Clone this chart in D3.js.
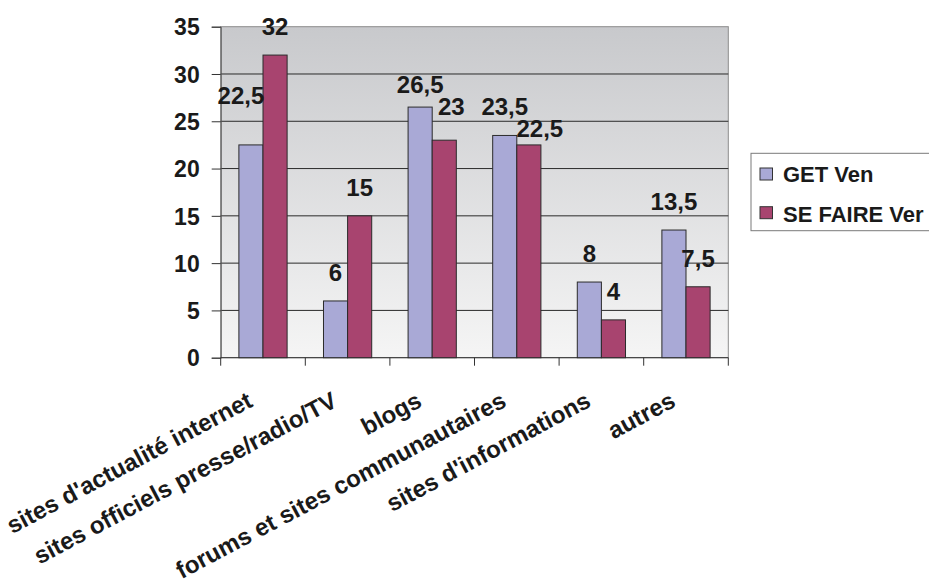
<!DOCTYPE html>
<html><head><meta charset="utf-8">
<script src="https://cdn.jsdelivr.net/npm/d3@7/dist/d3.min.js"></script>
<style>
html,body{margin:0;padding:0;background:#fff;}
text{font-family:Arial,"Liberation Sans",Helvetica,sans-serif;font-weight:bold;fill:#1a1a1a;}
</style></head>
<body>
<svg id="chart" width="929" height="586"></svg>
<script>
const categories = ["sites d'actualité internet","sites officiels presse/radio/TV","blogs","forums et sites communautaires","sites d'informations","autres"];
const seriesNames = ["GET Ven","SE FAIRE Ver"];
const getValues = [22.5, 6, 26.5, 23.5, 8, 13.5];
const seFaireValues = [32, 15, 23, 22.5, 4, 7.5];
const valueLabelsGet = ["22,5","6","26,5","23,5","8","13,5"];
const valueLabelsSe = ["32","15","23","22,5","4","7,5"];
const yTicks = [0,5,10,15,20,25,30,35];
// label nudges (pixels) to mimic original label placement
const nudgeGetX = [-10,0,0,0,0,0];
const nudgeGetY = [-21,0,6,0,0,0];
const nudgeSeX = [0,0,7,11,0,0];
const nudgeSeY = [0,0,-5,12,0,0];

const colors = ["#a9a9d6","#a8446f"];
const svg = d3.select("#chart");
const L = 220.7, R = 728.3, T = 26.7, B = 357.7;

const defs = svg.append("defs");
const grad = defs.append("linearGradient").attr("id","bg").attr("x1",0).attr("y1",0).attr("x2",0).attr("y2",1);
grad.append("stop").attr("offset","0%").attr("stop-color","#c8c9cc");
grad.append("stop").attr("offset","100%").attr("stop-color","#f5f5f5");

const x = d3.scaleBand().domain(categories).range([L,R]).padding(0);
const y = d3.scaleLinear().domain([0,35]).range([B,T]);
const bw = x.bandwidth()*0.285;
const groupOff = (x.bandwidth()-2*bw)/2;

svg.append("rect").attr("x",L).attr("y",T).attr("width",R-L).attr("height",B-T)
  .attr("fill","url(#bg)").attr("stroke","#8c8c8c").attr("stroke-width",1);

// gridlines
svg.append("g").selectAll("line").data(yTicks.filter(d=>d>0 && d<35)).join("line")
  .attr("x1",L).attr("x2",R).attr("y1",d=>y(d)).attr("y2",d=>y(d))
  .attr("stroke","#2a2a2a").attr("stroke-width",1);

// y axis
const yAxis = d3.axisLeft(y).tickValues(yTicks).tickSize(9).tickPadding(12).tickFormat(d3.format("d"));
const gy = svg.append("g").attr("transform",`translate(${L},0)`).call(yAxis);
gy.select(".domain").attr("stroke","#555");
gy.selectAll(".tick line").attr("stroke","#333");
gy.selectAll(".tick text").style("font-size","23px").attr("fill","#1a1a1a").attr("dy","0.36em");

// x axis
const gx = svg.append("g").attr("transform",`translate(0,${B})`);
gx.append("line").attr("x1",L).attr("x2",R).attr("stroke","#333");
const tickPos = categories.map(c=>x(c)).concat([R]);
gx.selectAll("line.t").data(tickPos).join("line").attr("class","t")
  .attr("x1",d=>d).attr("x2",d=>d).attr("y1",0).attr("y2",8).attr("stroke","#333");

// bars
const series = [getValues, seFaireValues];
series.forEach((vals,si)=>{
  svg.append("g").selectAll("rect").data(vals).join("rect")
    .attr("x",(d,i)=>x(categories[i])+groupOff+si*bw)
    .attr("y",d=>y(d))
    .attr("width",bw)
    .attr("height",d=>B-y(d))
    .attr("fill",colors[si]).attr("stroke","#2b2b2b").attr("stroke-width",1);
});

// value labels
const labelSets = [
  {vals:getValues, labels:valueLabelsGet, nx:nudgeGetX, ny:nudgeGetY},
  {vals:seFaireValues, labels:valueLabelsSe, nx:nudgeSeX, ny:nudgeSeY}
];
labelSets.forEach((s,si)=>{
  svg.append("g").selectAll("text").data(s.vals).join("text")
    .attr("x",(d,i)=>x(categories[i])+groupOff+si*bw+bw/2+s.nx[i])
    .attr("y",(d,i)=>y(d)-20+s.ny[i])
    .attr("text-anchor","middle")
    .style("font-size","24px")
    .text((d,i)=>s.labels[i]);
});

// category labels
svg.append("g").selectAll("text").data(categories).join("text")
  .attr("transform",d=>`translate(${x(d)+x.bandwidth()/2-9},${B+48}) rotate(-28)`)
  .attr("text-anchor","end")
  .style("font-size","24px")
  .text(d=>d);

// legend
const lg = svg.append("g");
lg.append("rect").attr("x",751).attr("y",153.3).attr("width",200).attr("height",77.4)
  .attr("fill","#fff").attr("stroke","#7a7a7a");
seriesNames.forEach((n,i)=>{
  lg.append("rect").attr("x",760).attr("y",168+i*38.7).attr("width",12.5).attr("height",12)
    .attr("fill",colors[i]).attr("stroke","#333");
  lg.append("text").attr("x",783).attr("y",182+i*39.5).style("font-size","22px").text(n);
});
</script>
</body></html>
